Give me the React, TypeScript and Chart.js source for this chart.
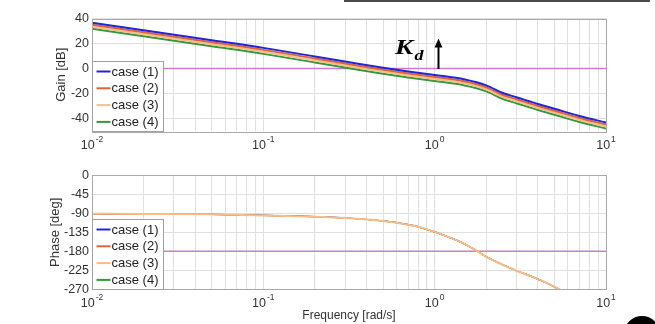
import React, { useEffect, useRef } from "react";
import { Chart, registerables } from "chart.js";
Chart.register(...registerables);

// ---- data ----
const gainFreq = [0.01, 0.02, 0.05, 0.1, 0.2, 0.3, 0.5, 0.7, 1, 1.5, 2, 2.5, 3, 4, 5, 7, 10];
const gainCase1 = [36.6, 30.6, 22.6, 16.5, 9.6, 5.6, 0.6, -2.4, -5.2, -8.8, -13.5, -19.6, -23.0, -28.4, -32.2, -38.0, -43.2];
const gainCase2 = [35.0, 29.0, 21.0, 14.9, 8.0, 4.0, -1.0, -4.0, -6.8, -10.4, -15.1, -21.2, -24.6, -30.0, -33.8, -39.6, -44.8];
const gainCase3 = [33.4, 27.4, 19.4, 13.3, 6.4, 2.4, -2.6, -5.6, -8.4, -12.0, -16.7, -22.8, -26.2, -31.6, -35.4, -41.2, -46.4];
const gainCase4 = [31.8, 25.8, 17.8, 11.7, 4.8, 0.8, -4.2, -7.2, -10.0, -13.6, -18.3, -24.4, -27.8, -33.2, -37.0, -42.8, -48.0];

const phaseFreq = [0.01, 0.02, 0.05, 0.1, 0.2, 0.3, 0.5, 0.7, 0.8, 1, 1.2, 1.4, 1.7, 2, 2.5, 3, 3.7, 4.5, 5.4];
const phaseCase1 = [-91, -91.5, -92.5, -95, -98, -101, -108, -117, -122, -134, -146, -157, -175, -193, -212, -226, -240, -255, -271];
const phaseCase2 = [-91, -91.5, -92.5, -95, -98, -101, -108, -117, -122, -134, -146, -157, -175, -193, -212, -226, -240, -255, -271];
const phaseCase3 = [-91, -91.5, -92.5, -95, -98, -101, -108, -117, -122, -134, -146, -157, -175, -193, -212, -226, -240, -255, -271];
const phaseCase4 = [-91, -91.5, -92.5, -95, -98, -101, -108, -117, -122, -134, -146, -157, -175, -193, -212, -226, -240, -255, -271];

const refFreq = [0.01, 10];
const gainRef = [0, 0];
const phaseRef = [-180, -180];

const caseLabels = ["case (1)", "case (2)", "case (3)", "case (4)"];
const caseColors = ["#2424d0", "#e0633a", "#f6bf88", "#33993a"];
const refColor = "#cc7ccc";

const gainTicks = [-40, -20, 0, 20, 40];
const phaseTicks = [-270, -225, -180, -135, -90, -45, 0];
const xMajor = [0.01, 0.1, 1, 10];
const xTickBase = "10";
const xTickExp = ["-2", "-1", "0", "1"];

const FONT = "Arial, 'Liberation Sans', Helvetica, sans-serif";
const SERIF = "'Liberation Serif', 'Times New Roman', serif";

function pts(xs: number[], ys: number[]) {
  return xs.map((x, i) => ({ x, y: ys[i] }));
}

function makeDeco(kd: boolean) {
  return {
    id: "deco",
    afterDraw(chart: any) {
      const ctx = chart.ctx;
      const { left, right, top, bottom } = chart.chartArea;
      const xs = chart.scales.x;
      ctx.save();
      // frame
      ctx.strokeStyle = "#a9a9a9";
      ctx.lineWidth = 1;
      ctx.strokeRect(Math.round(left) + 0.5, Math.round(top) + 0.5, Math.round(right - left), Math.round(bottom - top));
      // x tick labels 10^n
      ctx.fillStyle = "#333";
      ctx.textBaseline = "middle";
      xMajor.forEach((v, i) => {
        const px = xs.getPixelForValue(v);
        ctx.font = `12.5px ${FONT}`;
        const wb = ctx.measureText(xTickBase).width;
        ctx.font = `8.5px ${FONT}`;
        const we = ctx.measureText(xTickExp[i]).width;
        const x0 = px - (wb + we + 1) / 2;
        const y0 = bottom + 14.5;
        ctx.textAlign = "left";
        ctx.font = `12.5px ${FONT}`;
        ctx.fillText(xTickBase, x0, y0);
        ctx.font = `8.5px ${FONT}`;
        ctx.fillText(xTickExp[i], x0 + wb + 1, y0 - 6);
      });
      // legend
      const bw = 71, bh = 70;
      const bx = Math.round(left) + 0.5, by = Math.round(bottom - bh) + 0.5;
      ctx.fillStyle = "#ffffff";
      ctx.fillRect(bx, by, bw, bh);
      ctx.strokeStyle = "#a0a0a0";
      ctx.strokeRect(bx, by, bw, bh);
      caseLabels.forEach((lab, i) => {
        const y = by + 10 + i * 16.8;
        ctx.strokeStyle = caseColors[i];
        ctx.lineWidth = 2;
        ctx.beginPath();
        ctx.moveTo(bx + 4, y);
        ctx.lineTo(bx + 18, y);
        ctx.stroke();
        ctx.fillStyle = "#222";
        ctx.font = `13px ${FONT}`;
        ctx.textAlign = "left";
        ctx.textBaseline = "middle";
        ctx.fillText(lab, bx + 19, y + 0.5);
      });
      if (kd) {
        ctx.fillStyle = "#000";
        ctx.textBaseline = "alphabetic";
        ctx.textAlign = "left";
        ctx.save();
        ctx.translate(395, 53.5);
        ctx.scale(1.3, 1);
        ctx.font = `italic bold 21px ${SERIF}`;
        ctx.fillText("K", 0, 0);
        ctx.restore();
        ctx.save();
        ctx.translate(414.5, 60);
        ctx.scale(1.2, 1);
        ctx.font = `italic bold 15px ${SERIF}`;
        ctx.fillText("d", 0, 0);
        ctx.restore();
        ctx.strokeStyle = "#000";
        ctx.lineWidth = 2;
        ctx.beginPath();
        ctx.moveTo(438.5, 69);
        ctx.lineTo(438.5, 46);
        ctx.stroke();
        ctx.beginPath();
        ctx.moveTo(438.5, 38.5);
        ctx.lineTo(434.6, 47.5);
        ctx.lineTo(442.4, 47.5);
        ctx.closePath();
        ctx.fill();
      }
      ctx.restore();
    },
  };
}

function buildConfig(kind: "gain" | "phase"): any {
  const isGain = kind === "gain";
  const freq = isGain ? gainFreq : phaseFreq;
  const series = isGain
    ? [gainCase1, gainCase2, gainCase3, gainCase4]
    : [phaseCase1, phaseCase2, phaseCase3, phaseCase4];
  const datasets: any[] = series.map((s, i) => ({
    label: caseLabels[i],
    data: pts(freq, s),
    borderColor: caseColors[i],
    backgroundColor: caseColors[i],
    borderWidth: isGain || i === 2 ? 2 : 1.2,
    pointRadius: 0,
    showLine: true,
    fill: false,
    cubicInterpolationMode: "monotone",
    order: isGain ? i : i === 2 ? 0 : 1,
  }));
  datasets.push({
    label: "ref",
    data: pts(refFreq, isGain ? gainRef : phaseRef),
    borderColor: refColor,
    borderWidth: 1.5,
    pointRadius: 0,
    showLine: true,
    fill: false,
    order: 10,
  });
  const gridColor = "#e0e0e0";
  return {
    type: "scatter",
    data: { datasets },
    options: {
      animation: false,
      responsive: false,
      maintainAspectRatio: false,
      layout: {
        padding: isGain
          ? { left: 50, right: 49, top: 18.5, bottom: 0 }
          : { left: 43.3, right: 49, top: 13.3, bottom: 0 },
      },
      plugins: { legend: { display: false }, tooltip: { enabled: false } },
      scales: {
        x: {
          type: "logarithmic",
          min: 0.01,
          max: 10,
          afterBuildTicks: (s: any) => {
            const t: any[] = [];
            for (const d of [0.01, 0.1, 1]) {
              for (let k = 1; k < 10; k++) t.push({ value: Number((k * d).toPrecision(3)) });
            }
            t.push({ value: 10 });
            s.ticks = t;
          },
          afterFit: (s: any) => {
            s.height = isGain ? 31 : 34.7;
          },
          ticks: { display: false, autoSkip: false },
          grid: { color: gridColor, drawTicks: false, lineWidth: 1 },
          border: { display: false },
          title: {
            display: !isGain,
            text: "Frequency [rad/s]",
            color: "#333",
            font: { family: FONT, size: 12 },
            padding: { top: 0, bottom: 1 },
          },
        },
        y: {
          type: "linear",
          min: isGain ? -50 : -270,
          max: isGain ? 40 : 0,
          afterBuildTicks: (s: any) => {
            s.ticks = (isGain ? gainTicks : phaseTicks).map((v) => ({ value: v }));
          },
          afterFit: (s: any) => {
            s.width = isGain ? 42 : 48.7;
          },
          ticks: {
            color: "#333",
            font: { family: FONT, size: 12.5 },
            padding: 3,
            callback: (v: any) => String(v),
          },
          grid: { color: gridColor, drawTicks: false, lineWidth: 1 },
          border: { display: false },
          title: {
            display: true,
            text: isGain ? "Gain [dB]" : "Phase [deg]",
            color: "#333",
            font: { family: FONT, size: 13 },
            padding: { top: 4, bottom: 4 },
          },
        },
      },
    },
    plugins: [makeDeco(isGain)],
  };
}

function Panel({ kind, top }: { kind: "gain" | "phase"; top: number }) {
  const ref = useRef<HTMLCanvasElement | null>(null);
  useEffect(() => {
    if (!ref.current) return;
    const chart = new Chart(ref.current, buildConfig(kind));
    return () => chart.destroy();
  }, [kind]);
  return (
    <canvas
      ref={ref}
      width={655}
      height={162}
      style={{ position: "absolute", left: 0, top, width: 655, height: 162, display: "block" }}
    />
  );
}

export default function App() {
  return (
    <div
      style={{
        position: "absolute",
        left: 0,
        top: 0,
        width: 655,
        height: 324,
        overflow: "hidden",
        background: "#fff",
      }}
    >
      <Panel kind="gain" top={0} />
      <Panel kind="phase" top={162} />
      <div style={{ position: "absolute", left: 344, top: 0, width: 306, height: 2, background: "#4a4a4a" }} />
      <div
        style={{
          position: "absolute",
          left: 624,
          top: 316,
          width: 36,
          height: 36,
          borderRadius: "50%",
          background: "#000",
        }}
      />
    </div>
  );
}
